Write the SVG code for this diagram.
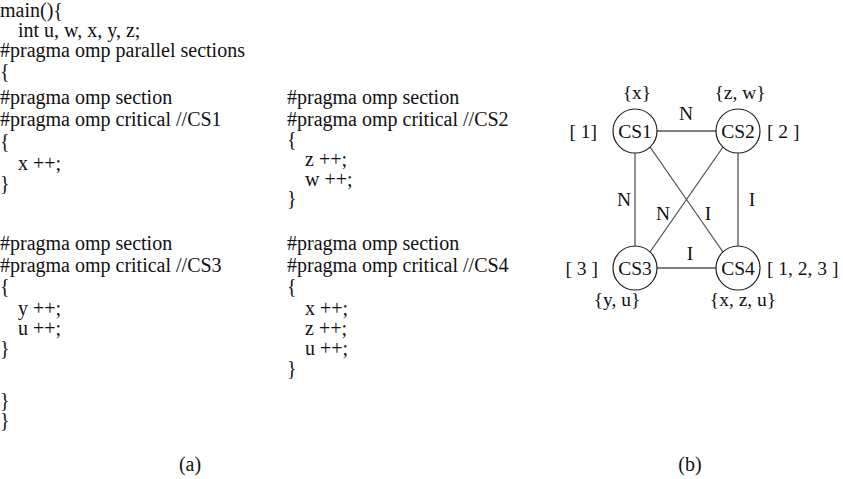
<svg xmlns="http://www.w3.org/2000/svg" width="843" height="479" viewBox="0 0 843 479">
  <style>
    text { font-family: "Liberation Serif", "Times New Roman", serif; font-size: 20px; fill: #111; }
    .g { font-size: 19.5px; }
    .mid { text-anchor: middle; }
    .end { text-anchor: end; }
    .node circle { fill: #fff; stroke: #222; stroke-width: 1.2; }
    #edges line { stroke: #555; stroke-width: 1.3; }
  </style>
  <rect width="843" height="479" fill="#fff"/>

  <!-- (a) OpenMP source listing -->
  <g id="code">
    <text x="0" y="17">main(){</text>
    <text x="18" y="37">int u, w, x, y, z;</text>
    <text x="0" y="57">#pragma omp parallel sections</text>
    <text x="0" y="78">{</text>

    <g id="section1">
      <text x="0" y="104">#pragma omp section</text>
      <text x="0" y="126">#pragma omp critical //CS1</text>
      <text x="0" y="148">{</text>
      <text x="18" y="170">x ++;</text>
      <text x="0" y="190">}</text>
    </g>

    <g id="section2">
      <text x="287" y="104">#pragma omp section</text>
      <text x="287" y="126">#pragma omp critical //CS2</text>
      <text x="287" y="146">{</text>
      <text x="305" y="166">z ++;</text>
      <text x="305" y="186">w ++;</text>
      <text x="287" y="205">}</text>
    </g>

    <g id="section3">
      <text x="0" y="250">#pragma omp section</text>
      <text x="0" y="272">#pragma omp critical //CS3</text>
      <text x="0" y="293">{</text>
      <text x="18" y="315">y ++;</text>
      <text x="18" y="335">u ++;</text>
      <text x="0" y="355">}</text>
    </g>

    <g id="section4">
      <text x="287" y="250">#pragma omp section</text>
      <text x="287" y="272">#pragma omp critical //CS4</text>
      <text x="287" y="293">{</text>
      <text x="305" y="315">x ++;</text>
      <text x="305" y="335">z ++;</text>
      <text x="305" y="355">u ++;</text>
      <text x="287" y="375">}</text>
    </g>

    <text x="0" y="407">}</text>
    <text x="0" y="427">}</text>
    <text class="mid" x="190" y="471">(a)</text>
  </g>

  <!-- (b) conflict graph of the critical sections -->
  <g id="edges">
    <line x1="657" y1="131" x2="716" y2="131"/>
    <line x1="635" y1="153" x2="635" y2="246"/>
    <line x1="738" y1="153" x2="738" y2="246"/>
    <line x1="657" y1="268" x2="716" y2="268"/>
    <line x1="650" y1="147" x2="723" y2="252"/>
    <line x1="723" y1="147" x2="650" y2="252"/>
  </g>

  <g id="edge-labels">
    <text class="g mid" x="686" y="120">N</text>
    <text class="g mid" x="624" y="206">N</text>
    <text class="g mid" x="663" y="220">N</text>
    <text class="g mid" x="708" y="220">I</text>
    <text class="g mid" x="752" y="206">I</text>
    <text class="g mid" x="690" y="260">I</text>
  </g>

  <g id="CS1" class="node">
    <circle cx="635" cy="131" r="22"/>
    <text class="g mid" x="635" y="138">CS1</text>
    <text class="g mid" x="637" y="99">{x}</text>
    <text class="g end" x="597" y="138">[ 1]</text>
  </g>
  <g id="CS2" class="node">
    <circle cx="738" cy="131" r="22"/>
    <text class="g mid" x="738" y="138">CS2</text>
    <text class="g mid" x="740" y="99">{z, w}</text>
    <text class="g" x="767" y="138">[ 2 ]</text>
  </g>
  <g id="CS3" class="node">
    <circle cx="635" cy="268" r="22"/>
    <text class="g mid" x="635" y="275">CS3</text>
    <text class="g mid" x="617" y="306">{y, u}</text>
    <text class="g end" x="598" y="275">[ 3 ]</text>
  </g>
  <g id="CS4" class="node">
    <circle cx="738" cy="268" r="22"/>
    <text class="g mid" x="738" y="275">CS4</text>
    <text class="g mid" x="743" y="306">{x, z, u}</text>
    <text class="g" x="767" y="275">[ 1, 2, 3 ]</text>
  </g>

  <text class="mid" x="690" y="471">(b)</text>
</svg>
